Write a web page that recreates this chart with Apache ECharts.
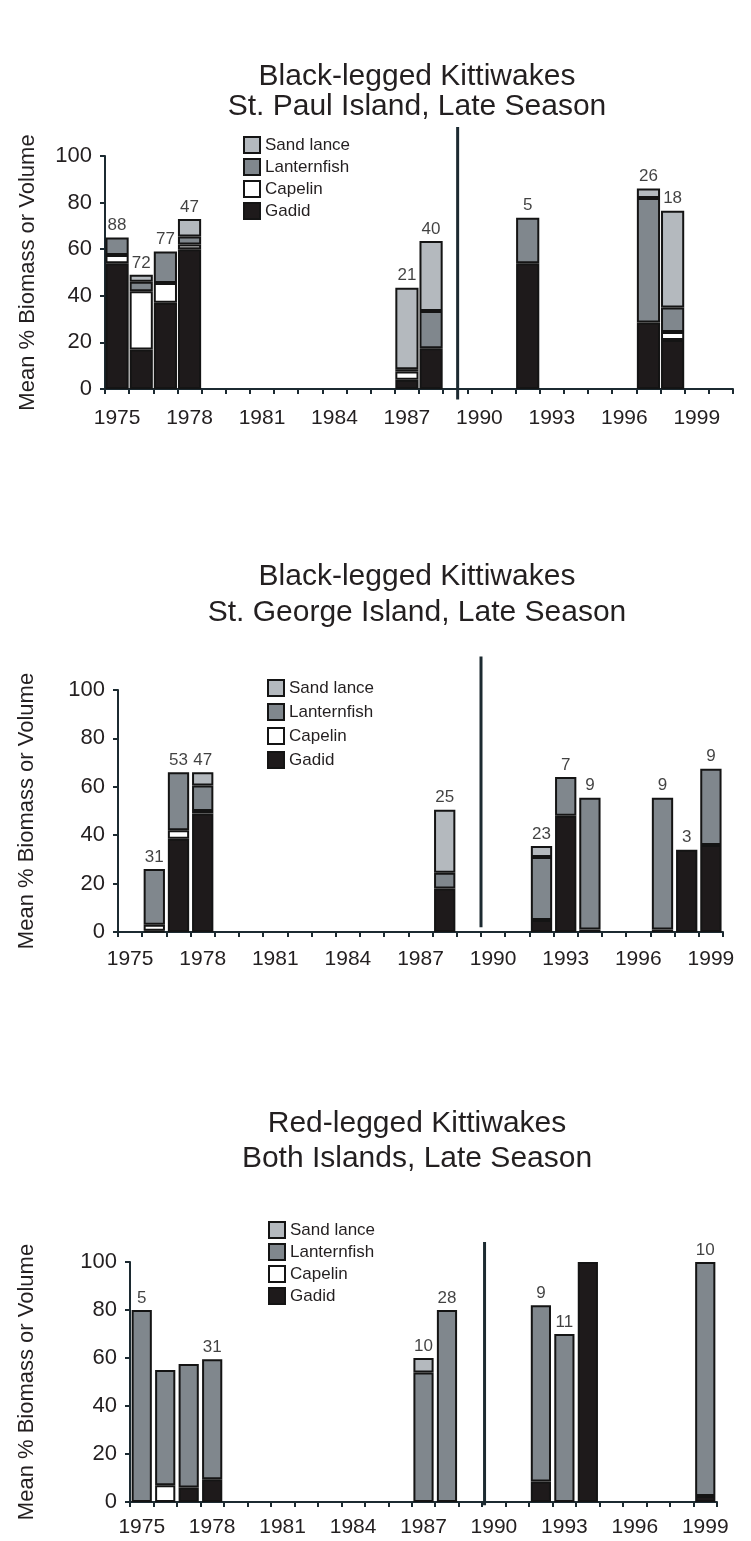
<!DOCTYPE html>
<html>
<head>
<meta charset="utf-8">
<script src="https://cdn.jsdelivr.net/npm/echarts@6/dist/echarts.min.js"></script>
<style>
  html, body { margin: 0; background: #fff; }
  #main { width: 751px; height: 1541px; }
</style>
</head>
<body>
<div id="main"></div>
<script>
const FONT = '"Liberation Sans", Arial, Helvetica, sans-serif'
const INK = '#231f20'
const AXIS = '#1c2a31'
const FISH = ['Sand lance', 'Lanternfish', 'Capelin', 'Gadid']
const FISH_COLOR = { 'Sand lance': '#b4b9be', Lanternfish: '#80878d', Capelin: '#ffffff', Gadid: '#1e1a1b' }

// Black-legged Kittiwakes, St. Paul Island
const paulYears = ['1975', '1976', '1977', '1978', '1979', '1980', '1981', '1982', '1983', '1984', '1985', '1986', '1987',
  '1988', '1989', '1990', '1991', '1992', '1993', '1994', '1995', '1996', '1997', '1998', '1999', '2000']
const paulBars = ['1975', '1976', '1977', '1978', '1987', '1988', '1992', '1997', '1998']
const paulGadid = [54, 17, 37, 60, 4, 17.5, 54, 28.5, 21]
const paulCapelin = [3.5, 25, 8.5, 2, 3.5, 0, 0, 0, 3.5]
const paulLantern = [7.5, 4, 13.5, 3.5, 1, 16, 19.5, 53.5, 10.5]
const paulSand = [0, 3, 0, 7.5, 35, 30, 0, 4, 41.5]
const paulN = [88, 72, 77, 47, 21, 40, 5, 26, 18]

// Black-legged Kittiwakes, St. George Island
const georgeYears = ['1975', '1976', '1977', '1978', '1979', '1980', '1981', '1982', '1983', '1984', '1985', '1986', '1987',
  '1988', '1989', '1990', '1991', '1992', '1993', '1994', '1995', '1996', '1997', '1998', '1999']
const georgeBars = ['1976', '1977', '1978', '1988', '1992', '1993', '1994', '1997', '1998', '1999']
const georgeGadid = [0.5, 38.5, 49, 18, 5, 48, 1, 1, 34, 36]
const georgeCapelin = [2.5, 3.5, 1, 0, 0, 0, 0, 0, 0, 0]
const georgeLantern = [23, 24, 10.5, 6.5, 26, 16, 54.5, 54.5, 0, 31.5]
const georgeSand = [0, 0, 5.5, 26, 4.5, 0, 0, 0, 0, 0]
const georgeN = [31, 53, 47, 25, 23, 7, 9, 9, 3, 9]

// Red-legged Kittiwakes, both islands
const bothYears = georgeYears
const bothBars = ['1975', '1976', '1977', '1978', '1987', '1988', '1992', '1993', '1994', '1999']
const bothGadid = [0, 0, 6, 9.5, 0, 0, 8.5, 0, 100, 2.5]
const bothCapelin = [0, 7, 0, 0, 0, 0, 0, 0, 0, 0]
const bothLantern = [80, 48, 51.5, 50, 54, 80, 73.5, 70, 0, 97.5]
const bothSand = [0, 0, 0, 0, 6, 0, 0, 0, 0, 0]
const bothN = [5, null, null, 31, 10, 28, 9, 11, null, 10]

const charts = [
  {
    title: 'Black-legged Kittiwakes\nSt. Paul Island, Late Season', titleTop: 57, lineHeight: 30,
    years: paulYears, bars: paulBars, n: paulN,
    fish: { Gadid: paulGadid, Capelin: paulCapelin, Lanternfish: paulLantern, 'Sand lance': paulSand },
    grid: { left: 105, top: 156, width: 628, height: 233 }, gap: '4%',
    legend: { left: 238, top: 131, itemGap: 4 }, nameGap: 66, labelMargin: 19,
    divider: { at: 1989.1, from: -4.5, to: 112.5 }
  },
  {
    title: 'Black-legged Kittiwakes\nSt. George Island, Late Season', titleTop: 554, lineHeight: 36,
    years: georgeYears, bars: georgeBars, n: georgeN,
    fish: { Gadid: georgeGadid, Capelin: georgeCapelin, Lanternfish: georgeLantern, 'Sand lance': georgeSand },
    grid: { left: 118, top: 690, width: 605, height: 242 }, gap: '12%',
    legend: { left: 262, top: 674, itemGap: 6 }, nameGap: 80, labelMargin: 17,
    divider: { at: 1989.5, from: 2, to: 113.8 }
  },
  {
    title: 'Red-legged Kittiwakes\nBoth Islands, Late Season', titleTop: 1101, lineHeight: 35,
    years: bothYears, bars: bothBars, n: bothN,
    fish: { Gadid: bothGadid, Capelin: bothCapelin, Lanternfish: bothLantern, 'Sand lance': bothSand },
    grid: { left: 130, top: 1262, width: 587, height: 240 }, gap: '14%',
    legend: { left: 263, top: 1216, itemGap: 4 }, nameGap: 92, labelMargin: 15,
    divider: { at: 1989.6, from: -1.4, to: 108.3 }
  }
]

const option = {
  backgroundColor: '#fff',
  animation: false,
  textStyle: { fontFamily: FONT, color: INK },
  title: [], grid: [], xAxis: [], yAxis: [], legend: [], series: []
}

charts.forEach((c, i) => {
  const full = list => c.years.map(y => {
    const k = c.bars.indexOf(y)
    return k < 0 || !list[k] ? null : list[k]
  })
  option.title.push({
    text: c.title, left: 412, top: c.titleTop, textAlign: 'center',
    textStyle: { fontSize: 30, fontWeight: 'normal', color: INK, fontFamily: FONT, lineHeight: c.lineHeight }
  })
  option.grid.push(Object.assign({ containLabel: false }, c.grid))
  option.xAxis.push({
    type: 'category', gridIndex: i, data: c.years, boundaryGap: true,
    axisLine: { lineStyle: { color: AXIS, width: 2 } },
    axisTick: { show: true, interval: 0, length: 5, lineStyle: { color: AXIS, width: 2 } },
    axisLabel: { interval: 2, color: INK, fontSize: 21, fontFamily: FONT, margin: c.labelMargin },
    splitLine: { show: false }
  })
  option.xAxis.push({
    type: 'value', gridIndex: i, show: false,
    min: Number(c.years[0]) - 0.5, max: Number(c.years[c.years.length - 1]) + 0.5
  })
  option.yAxis.push({
    type: 'value', gridIndex: i, min: 0, max: 100, interval: 20,
    name: 'Mean % Biomass or Volume', nameLocation: 'middle', nameGap: c.nameGap, nameRotate: 90,
    nameTextStyle: { fontSize: 22, color: INK, fontFamily: FONT },
    axisLine: { show: true, lineStyle: { color: AXIS, width: 2 } },
    axisTick: { show: true, length: 5, lineStyle: { color: AXIS, width: 2 } },
    axisLabel: { fontSize: 22, color: INK, fontFamily: FONT, margin: 13 },
    splitLine: { show: false }
  })
  option.legend.push({
    data: FISH, orient: 'vertical', left: c.legend.left, top: c.legend.top, itemGap: c.legend.itemGap,
    itemWidth: 16, itemHeight: 16, icon: 'rect', selectedMode: false,
    textStyle: { fontSize: 17, color: INK, fontFamily: FONT, lineHeight: 17 }
  })
  // stacked from the bottom: Gadid, Capelin, Lanternfish, Sand lance
  ;['Gadid', 'Capelin', 'Lanternfish', 'Sand lance'].forEach(name => {
    option.series.push({
      name, type: 'bar', stack: 'fish' + i, xAxisIndex: 2 * i, yAxisIndex: i,
      barCategoryGap: c.gap, data: full(c.fish[name]),
      itemStyle: { color: FISH_COLOR[name], borderColor: '#141414', borderWidth: 2 }
    })
  })
  // sample sizes over the stacks
  const labels = []
  c.bars.forEach((y, k) => {
    if (c.n[k] == null) return
    const total = ['Gadid', 'Capelin', 'Lanternfish', 'Sand lance'].reduce((s, f) => s + c.fish[f][k], 0)
    labels.push({ value: [y, total], n: c.n[k] })
  })
  option.series.push({
    type: 'scatter', xAxisIndex: 2 * i, yAxisIndex: i, symbolSize: 1, silent: true,
    itemStyle: { color: 'rgba(0,0,0,0)' }, data: labels,
    label: { show: true, position: 'top', distance: 3, fontSize: 17, color: '#111', fontFamily: FONT, formatter: p => p.data.n }
  })
  // early / late period divider
  option.series.push({
    type: 'line', xAxisIndex: 2 * i + 1, yAxisIndex: i, clip: false, silent: true, symbol: 'none',
    lineStyle: { color: AXIS, width: 3 },
    data: [[c.divider.at, c.divider.from], [c.divider.at, c.divider.to]]
  })
})

const chart = echarts.init(document.getElementById('main'))
chart.setOption(option)
</script>
</body>
</html>
